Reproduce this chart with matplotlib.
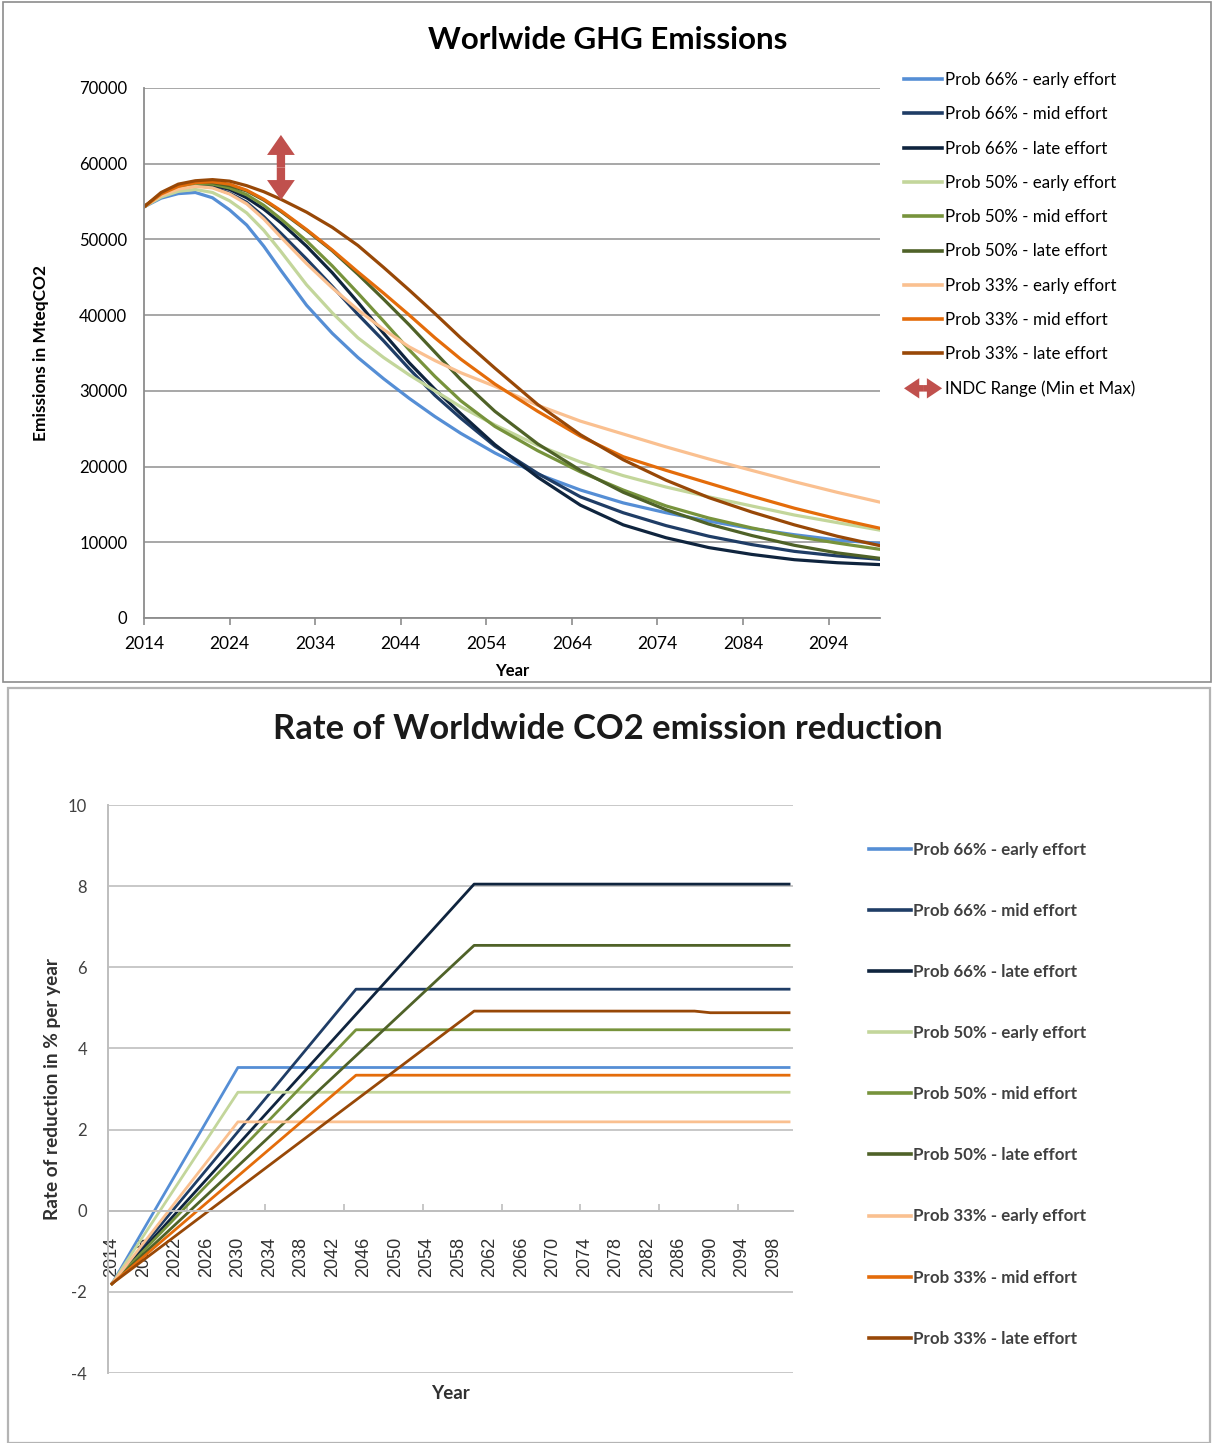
"""
Two stacked charts: worldwide GHG emission pathways and the matching
rate of worldwide CO2 emission reduction.
"""

import matplotlib
matplotlib.use("Agg")
import matplotlib.pyplot as plt
from matplotlib.patches import Rectangle, FancyArrowPatch
from matplotlib.legend_handler import HandlerBase
from matplotlib.lines import Line2D
from matplotlib.ticker import FixedLocator

OUT_FILE = "out.png"
plt.rcParams["axes.unicode_minus"] = False

LABELS = [
    "Prob 66% - early effort",
    "Prob 66% - mid effort",
    "Prob 66% - late effort",
    "Prob 50% - early effort",
    "Prob 50% - mid effort",
    "Prob 50% - late effort",
    "Prob 33% - early effort",
    "Prob 33% - mid effort",
    "Prob 33% - late effort",
]
COLORS = ["#558ED5", "#1F3D66", "#0F243E", "#C3D69B", "#77933C",
          "#4F6228", "#FAC090", "#E46C0A", "#984807"]
INDC_LABEL = "INDC Range (Min et Max)"
INDC_COLOR = "#C0504D"

# ---- top chart: emissions in MteqCO2 ----
YEARS = [2014, 2016, 2018, 2020, 2022, 2024, 2026, 2028, 2030, 2033, 2036,
         2039, 2042, 2045, 2048, 2051, 2055, 2060, 2065, 2070, 2075, 2080,
         2085, 2090, 2095, 2100]

EMI_66_EARLY = [54300, 55450, 56050, 56200, 55500, 53900, 51900, 49100, 45900,
                41300, 37600, 34400, 31600, 29000, 26600, 24400, 21800, 19000,
                16900, 15200, 13900, 12800, 11800, 11000, 10300, 9850]
EMI_66_MID = [54300, 55800, 56700, 57100, 56900, 56100, 54900, 53000, 50800,
              47400, 43800, 40100, 36600, 32900, 29400, 26400, 22700, 19100,
              16000, 13900, 12200, 10800, 9700, 8800, 8200, 7750]
EMI_66_LATE = [54300, 55900, 56900, 57300, 57200, 56600, 55500, 54000, 52200,
               49100, 45600, 41700, 37600, 33700, 30200, 27000, 22900, 18600,
               14900, 12300, 10600, 9300, 8400, 7700, 7300, 7050]
EMI_50_EARLY = [54300, 55600, 56350, 56600, 56200, 55100, 53500, 51200, 48400,
                44000, 40300, 37000, 34400, 32100, 30000, 27900, 25500, 22800,
                20600, 18800, 17300, 16000, 14800, 13600, 12600, 11600]
EMI_50_MID = [54300, 55900, 56900, 57350, 57300, 56800, 55900, 54500, 52700,
              49800, 46500, 42900, 39200, 35400, 31900, 28700, 25300, 22100,
              19300, 16900, 14800, 13200, 11900, 10800, 9900, 9070]
EMI_50_LATE = [54300, 56000, 57100, 57550, 57500, 57100, 56400, 55200, 53700,
               51200, 48500, 45400, 42100, 38700, 35100, 31500, 27300, 23000,
               19500, 16600, 14300, 12400, 10900, 9600, 8600, 7880]
EMI_33_EARLY = [54300, 55800, 56650, 57000, 56800, 56000, 54700, 52700, 50300,
                46800, 43600, 40700, 38100, 35800, 34000, 32400, 30600, 28100,
                26000, 24300, 22600, 21000, 19500, 18000, 16600, 15300]
EMI_33_MID = [54300, 56000, 57000, 57500, 57600, 57300, 56500, 55300, 53800,
              51300, 48600, 45700, 42900, 40000, 37000, 34200, 30900, 27300,
              24000, 21300, 19500, 17800, 16100, 14500, 13100, 11850]
EMI_33_LATE = [54300, 56200, 57300, 57750, 57900, 57700, 57100, 56300, 55300,
               53600, 51600, 49200, 46300, 43300, 40200, 37000, 33000, 28200,
               24200, 20900, 18200, 15900, 14000, 12300, 10800, 9550]

EMISSIONS = [EMI_66_EARLY, EMI_66_MID, EMI_66_LATE, EMI_50_EARLY, EMI_50_MID,
             EMI_50_LATE, EMI_33_EARLY, EMI_33_MID, EMI_33_LATE]

INDC_YEAR = 2030
INDC_MIN = 55200
INDC_MAX = 63800

# ---- bottom chart: rate of reduction in % per year (break points) ----
RATE_66_EARLY_YEARS = [2014, 2030, 2100]
RATE_66_EARLY = [-1.8, 3.53, 3.53]
RATE_66_MID_YEARS = [2014, 2045, 2100]
RATE_66_MID = [-1.8, 5.46, 5.46]
RATE_66_LATE_YEARS = [2014, 2060, 2100]
RATE_66_LATE = [-1.8, 8.05, 8.05]
RATE_50_EARLY_YEARS = [2014, 2030, 2100]
RATE_50_EARLY = [-1.8, 2.92, 2.92]
RATE_50_MID_YEARS = [2014, 2045, 2100]
RATE_50_MID = [-1.8, 4.46, 4.46]
RATE_50_LATE_YEARS = [2014, 2060, 2100]
RATE_50_LATE = [-1.8, 6.54, 6.54]
RATE_33_EARLY_YEARS = [2014, 2030, 2100]
RATE_33_EARLY = [-1.8, 2.19, 2.19]
RATE_33_MID_YEARS = [2014, 2045, 2100]
RATE_33_MID = [-1.8, 3.34, 3.34]
RATE_33_LATE_YEARS = [2014, 2060, 2088, 2090, 2100]
RATE_33_LATE = [-1.8, 4.92, 4.92, 4.88, 4.88]

RATES = [
    (RATE_66_EARLY_YEARS, RATE_66_EARLY), (RATE_66_MID_YEARS, RATE_66_MID),
    (RATE_66_LATE_YEARS, RATE_66_LATE), (RATE_50_EARLY_YEARS, RATE_50_EARLY),
    (RATE_50_MID_YEARS, RATE_50_MID), (RATE_50_LATE_YEARS, RATE_50_LATE),
    (RATE_33_EARLY_YEARS, RATE_33_EARLY), (RATE_33_MID_YEARS, RATE_33_MID),
    (RATE_33_LATE_YEARS, RATE_33_LATE),
]

FONT = ["Lato", "DejaVu Sans"]
W, H = 1213, 1443


def fig_box(left, top, right, bottom):
    """Pixel box (from top left) -> figure fraction rect."""
    return [left / W, 1 - bottom / H, (right - left) / W, (bottom - top) / H]


class DoubleArrowHandler(HandlerBase):
    """Legend key drawn as a horizontal double-headed arrow."""

    def create_artists(self, legend, orig_handle, xdescent, ydescent,
                       width, height, fontsize, trans):
        y = height / 2 - ydescent
        mid = width / 2 - xdescent
        style = "simple,head_width=1.0,head_length=0.75,tail_width=0.32"
        arts = []
        for end in (-xdescent, width - xdescent):
            arts.append(FancyArrowPatch((mid, y), (end, y), arrowstyle=style,
                                        mutation_scale=fontsize * 1.2,
                                        color=INDC_COLOR, lw=0,
                                        shrinkA=0, shrinkB=0, transform=trans))
        return arts


def draw_frames(fig):
    fig.patches.append(Rectangle((3 / W, 1 - 682 / H), 1208 / W, 680 / H,
                                 transform=fig.transFigure, fill=False,
                                 edgecolor="#8C8C8C", lw=1.2))
    fig.patches.append(Rectangle((8 / W, 0.0), 1202 / W, 1 - 688 / H,
                                 transform=fig.transFigure, fill=False,
                                 edgecolor="#B4B4B4", lw=1.6))


def plot_emissions(fig):
    ax = fig.add_axes(fig_box(144, 88, 880, 618))
    for values, color, label in zip(EMISSIONS, COLORS, LABELS):
        ax.plot(YEARS, values, color=color, lw=2.3, label=label,
                solid_capstyle="round", solid_joinstyle="round")

    style = "simple,head_width=1.0,head_length=0.72,tail_width=0.3"
    mid = (INDC_MIN + INDC_MAX) / 2
    for end in (INDC_MAX, INDC_MIN):
        ax.add_patch(FancyArrowPatch((INDC_YEAR, mid), (INDC_YEAR, end),
                                     arrowstyle=style, mutation_scale=20,
                                     color=INDC_COLOR, lw=0,
                                     shrinkA=0, shrinkB=0, zorder=5))

    ax.set_xlim(2014, 2100)
    ax.set_ylim(0, 70000)
    ax.set_xticks(range(2014, 2100, 10))
    ax.set_yticks(range(0, 70001, 10000))
    ax.grid(axis="y", color="#A0A0A0", lw=1.3)
    ax.set_axisbelow(True)
    for side in ("top", "right"):
        ax.spines[side].set_visible(False)
    for side in ("left", "bottom"):
        ax.spines[side].set_color("#8C8C8C")
        ax.spines[side].set_linewidth(1.3)
    ax.tick_params(axis="x", length=5, width=1.2, color="#8C8C8C", pad=8,
                   labelsize=12.5)
    ax.tick_params(axis="y", length=0, pad=12, labelsize=12)
    for lab in ax.get_xticklabels() + ax.get_yticklabels():
        lab.set_family(FONT)

    fig.text(608 / W, 1 - 40 / H, "Worlwide GHG Emissions", family=FONT,
             fontsize=22.5, fontweight="bold", ha="center", va="center")
    ax.set_xlabel("Year", family=FONT, fontsize=12, fontweight="bold",
                  labelpad=8)
    ax.set_ylabel("Emissions in MteqCO2", family=FONT, fontsize=12.5,
                  fontweight="bold", labelpad=22)

    handles = [Line2D([], [], color=c, lw=2.6) for c in COLORS]
    handles.append(Rectangle((0, 0), 1, 1))
    fig.legend(handles, LABELS + [INDC_LABEL], loc="upper left",
               bbox_to_anchor=(904 / W, 1 - 72 / H), frameon=False,
               prop={"family": FONT, "size": 12.2},
               handlelength=2.25, handletextpad=0.18, labelspacing=1.08,
               borderpad=0, borderaxespad=0,
               handler_map={Rectangle: DoubleArrowHandler()})


def plot_rates(fig):
    ax = fig.add_axes(fig_box(108, 805, 793, 1373))
    for (years, values), color, label in zip(RATES, COLORS, LABELS):
        ax.plot(years, values, color=color, lw=2.0, label=label)

    ax.set_xlim(2013.5, 2100.5)
    ax.set_ylim(-4, 10)
    ax.set_yticks(range(-4, 11, 2))
    ax.set_xticks(range(2014, 2100, 4))
    ax.xaxis.set_minor_locator(FixedLocator([2023.5 + 10 * i for i in range(8)]))
    ax.grid(axis="y", color="#C8C8C8", lw=1.4)
    ax.set_axisbelow(True)
    ax.spines["bottom"].set_position(("data", 0))
    for side in ("top", "right"):
        ax.spines[side].set_visible(False)
    for side in ("left", "bottom"):
        ax.spines[side].set_color("#BEBEBE")
        ax.spines[side].set_linewidth(1.4)
    ax.tick_params(axis="x", which="major", length=0, pad=19, labelsize=13,
                   labelrotation=90, labelcolor="#303030")
    ax.tick_params(axis="x", which="minor", direction="in", length=5,
                   color="#BEBEBE", width=1.2)
    ax.tick_params(axis="y", length=0, pad=15, labelsize=12,
                   labelcolor="#404040")
    for lab in ax.get_xticklabels():
        lab.set_family(["Liberation Sans", "DejaVu Sans"])
        lab.set_verticalalignment("top")
    for lab in ax.get_yticklabels():
        lab.set_family(FONT)

    ax.text(0.5, -0.022, "Year", transform=ax.transAxes, ha="center",
            va="top", family=FONT, fontsize=13.5, fontweight="bold",
            color="#303030")
    ax.set_ylabel("Rate of reduction in % per year", family=FONT,
                  fontsize=13.7, fontweight="bold", color="#303030",
                  labelpad=5)
    fig.text(608 / W, 1 - 729 / H, "Rate of Worldwide CO2 emission reduction",
             ha="center", va="center", family=FONT, fontsize=24.8,
             fontweight="bold", color="#1A1A1A")

    handles = [Line2D([], [], color=c, lw=2.6) for c in COLORS]
    fig.legend(handles, LABELS, loc="upper left",
               bbox_to_anchor=(869 / W, 1 - 842 / H), frameon=False,
               prop={"family": FONT, "size": 12.2, "weight": "bold"},
               labelcolor="#404040",
               handlelength=2.5, handletextpad=0.12, labelspacing=2.66,
               borderpad=0, borderaxespad=0)


def execute():
    fig = plt.figure(figsize=(W / 100, H / 100), dpi=100)
    draw_frames(fig)
    plot_emissions(fig)
    plot_rates(fig)
    fig.savefig(OUT_FILE, dpi=100)


if __name__ == "__main__":
    execute()
